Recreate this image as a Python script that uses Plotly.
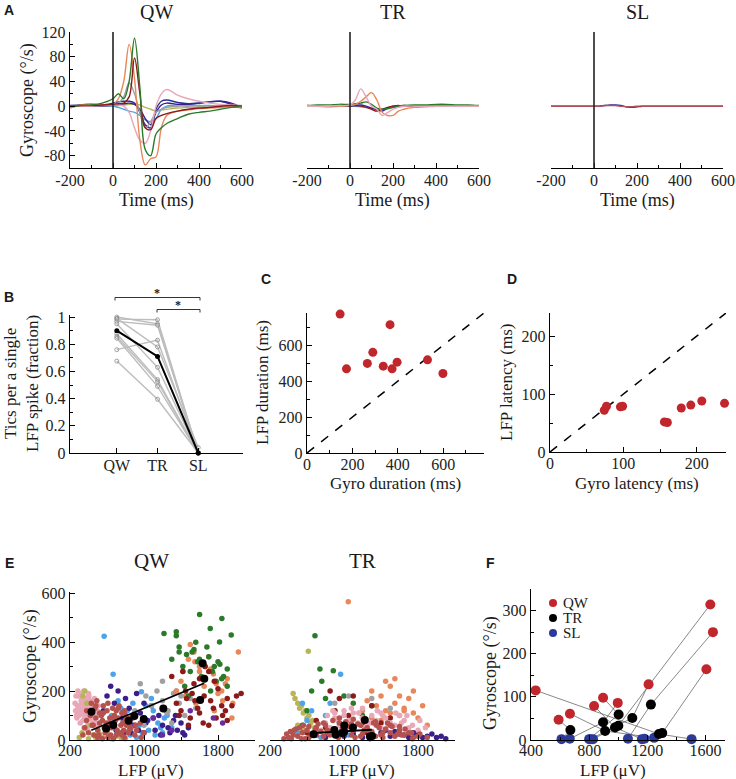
import plotly.graph_objects as go

W, H = 736, 779
SERIF = "Liberation Serif"
SANS = "Liberation Sans"

# ---------------- Panel A: gyroscope traces (deg/s) ----------------
time_ms = [-200, -150, -100, -50, 0, 25, 50, 75, 100, 125, 150, 175, 200, 225, 250, 300, 350, 400, 450, 500, 550, 600]

qw_orange = [-3, 2, 4, 2, 3, 12, 40, 100, 45, -55, -95, -85, -82, -35, -15, -8, -6, -4, -3, -2, -1, -3]
qw_green = [0, 1, 2, 5, 12, 20, 12, 40, 110, 30, -70, -80, -45, -35, -28, -20, -13, -10, -8, -5, -2, 0]
qw_darkred = [0, 1, 1, 2, 3, 4, 5, 15, 78, 20, -35, -38, -20, -15, -12, -8, -5, -3, -2, 0, 1, 0]
qw_gray = [0, 0, 1, 1, 2, 5, 15, 38, 20, -10, -35, -25, -10, -5, -2, 0, 0, 1, 0, 0, 0, 0]
qw_pink = [0, 0, 0, 1, 2, 2, 0, -10, -35, -55, -60, -40, 0, 20, 27, 18, 12, 8, 5, 3, 2, 1]
qw_navy = [1, 2, 1, 2, 5, 7, 8, 8, 5, -10, -30, -35, -5, 8, 10, 6, 4, 5, 7, 8, 3, -3]
qw_lightblue = [0, 0, 1, 0, 0, -2, -5, -8, -10, -15, -22, -25, -20, -5, 0, 2, 2, 1, 1, 0, 0, -1]
qw_olive = [0, 0, 0, 0, 0, 1, 2, 3, 3, 2, -2, -5, -8, -6, -5, -3, -2, -1, -1, 0, 0, 0]
qw_indigo = [0, 0, 0, 0, 2, 3, 4, 5, 3, -5, -20, -30, -10, 2, 5, 3, 3, 5, 7, 8, 5, -2]

tr_pink = [0, 0, 0, 1, 2, 10, 28, 15, 0, -5, -15, -10, -5, -2, 0, 0, 0, 0, 0, 0, 0, 0]
tr_orange = [1, 0, 1, 0, 1, 3, 8, 15, 22, 10, -10, -15, -15, -8, -5, -2, -1, 0, 0, 0, 0, 0]
tr_green = [1, 2, 2, 3, 3, 4, 5, 7, 3, -3, -5, -4, -2, 0, 1, 2, 2, 3, 3, 2, 2, 1]
tr_darkred = [0, 0, 0, 0, 1, 1, 0, -2, -5, -8, -5, -2, 0, 1, 0, 0, 0, 0, 0, 0, 0, 0]
tr_navy = [0, 0, 0, 0, 0, 1, 2, 0, -3, -6, -8, -3, 0, 0, 1, 0, 0, 0, 0, 0, 0, 0]
tr_lightblue = [0, 0, -1, 0, 0, 0, -1, -2, -3, -5, -6, -4, -2, -1, 0, 0, 0, 0, 0, 0, 0, 0]

sl_navy = [0, 0, 0, 0, 0, 0, 1, 2, 2, 1, -1, -2, -1, 0, 0, 0, 0, 0, 0, 0, 0, 0]
sl_darkred = [0, 0, 0, 0, 0, 0, 1, 1, 1, 0, -1, -1, 0, 0, 0, 0, 0, 0, 0, 0, 0, 0]

# ---------------- Panel B: tics per LFP spike ----------------
b_states = ["QW", "TR", "SL"]
b_qw = [1.00, 0.985, 0.968, 0.95, 0.877, 0.857, 0.844, 0.76, 0.676, 0.99]
b_tr = [0.95, 0.98, 0.94, 0.63, 0.54, 0.525, 0.49, 0.83, 0.395, 0.78]
b_sl = [0, 0, 0, 0, 0, 0, 0, 0, 0, 0.04]
b_mean = [0.9, 0.71, 0.0]

# ---------------- Panel C: durations (ms) ----------------
c_gyro_dur = [146, 174, 266, 290, 336, 366, 375, 397, 531, 599]
c_lfp_dur = [774, 469, 499, 561, 484, 715, 469, 506, 519, 443]

# ---------------- Panel D: latencies (ms) ----------------
d_gyro_lat = [74, 77, 96, 99, 156, 160, 179, 192, 207, 238]
d_lfp_lat = [72, 79, 78, 79, 52, 51, 76, 81, 88, 84]

# ---------------- Panel E: LFP (uV) vs gyroscope (deg/s), single events ----------------
eqw_pink_x = [260, 280, 300, 320, 340, 360, 380, 400, 420, 440, 460, 480, 500, 290, 310, 330, 350, 370, 390, 410,
              430, 450, 470, 270, 300, 340, 380, 420, 460, 500, 330, 370, 410, 450, 350, 390, 430, 310, 360, 400,
              255, 275, 295, 315, 335, 355, 375, 395, 415, 435, 455, 475, 495, 515, 265, 325, 385, 445, 505, 285,
              345, 405, 465]
eqw_pink_y = [120, 140, 100, 160, 130, 90, 150, 170, 110, 80, 130, 100, 60, 180, 70, 120, 200, 140, 60, 90,
              150, 120, 70, 100, 110, 80, 120, 130, 90, 110, 150, 170, 140, 100, 50, 40, 60, 140, 100, 190,
              150, 90, 130, 110, 170, 100, 130, 110, 160, 140, 90, 150, 120, 100, 180, 190, 90, 110, 140, 200,
              140, 180, 170]
eqw_olive_x = [300, 330, 360, 400, 450, 500, 550, 600, 650, 700, 750, 800, 420, 480, 520, 340, 380]
eqw_olive_y = [10, 30, 200, 5, 20, 40, 10, 30, 5, 15, 10, 5, 60, 8, 25, 180, 150]
eqw_lightblue_x = [569, 666, 972, 600, 650, 700, 750, 800, 850, 900, 950, 1000, 1050, 1100, 1150, 1200, 1250, 1300,
                   720, 780, 880, 980, 1080, 1180, 680, 820, 920, 1020, 1120, 1220]
eqw_lightblue_y = [424, 269, 197, 60, 100, 40, 130, 80, 20, 110, 60, 90, 40, 120, 70, 30, 100, 50,
                   160, 10, 150, 30, 170, 50, 80, 120, 10, 140, 20, 90]
eqw_indigo_x = [560, 600, 640, 680, 720, 760, 800, 840, 880, 920, 960, 1000, 1040, 1080, 1120, 1160, 1200, 1240,
                1280, 1320, 1360, 1400, 1440, 1480, 700, 780, 860, 940, 1020, 1100, 1180, 1260, 1340, 1420]
eqw_indigo_y = [120, 180, 220, 150, 200, 90, 170, 130, 60, 190, 110, 150, 80, 140, 40, 100, 60, 120,
                30, 80, 40, 70, 20, 50, 40, 30, 30, 40, 70, 90, 20, 50, 100, 30]
eqw_gray_x = [900, 960, 1020, 1080, 1140, 1200, 1260, 1320, 1380, 1440, 1500, 1560, 1100, 1200, 1300, 1400, 1000, 1250, 1350]
eqw_gray_y = [120, 230, 180, 140, 200, 160, 120, 190, 150, 100, 170, 130, 90, 240, 70, 180, 60, 110, 200]
eqw_salmon_x = [1350, 1420, 1480, 1540, 1600, 1660, 1720, 1780, 1840, 1900, 1960, 2020, 1450, 1550, 1650, 1750,
                1850, 1950, 1500, 1600, 1700, 1800, 1400, 1560, 1760, 1880]
eqw_salmon_y = [200, 280, 330, 360, 300, 250, 290, 230, 200, 250, 150, 360, 180, 320, 220, 270,
                160, 90, 390, 280, 340, 190, 240, 150, 120, 230]
eqw_green_x = [1216, 1349, 1349, 1601, 1842, 1716, 1943, 1817, 1300, 1380, 1420, 1460, 1500, 1540, 1580, 1620, 1660,
               1700, 1740, 1780, 1820, 1860, 1900, 1440, 1520, 1600, 1680, 1760, 1840, 1480, 1560, 1640, 1720, 1800,
               1380, 1900]
eqw_green_y = [435, 442, 426, 513, 497, 456, 429, 401, 330, 360, 300, 350, 280, 370, 320, 260, 300,
               340, 280, 240, 310, 260, 220, 220, 360, 330, 380, 300, 250, 180, 400, 250, 200, 320,
               380, 290]
eqw_darkred_x = [1300, 1350, 1400, 1450, 1500, 1550, 1600, 1650, 1700, 1750, 1800, 1850, 1900, 1950, 2000, 2050, 1420,
                 1480, 1540, 1600, 1660, 1720, 1780, 1840, 1900, 1380, 1520, 1640, 1760, 1880, 1460, 1580, 1700]
eqw_darkred_y = [260, 150, 120, 200, 90, 160, 250, 180, 60, 130, 210, 100, 170, 140, 180, 190, 280,
                 60, 230, 110, 300, 160, 90, 140, 80, 100, 190, 70, 240, 120, 170, 130, 280]
eqw_purple_x = [900, 1100, 1300, 1500, 1750, 1850, 1000, 1200]
eqw_purple_y = [60, 90, 40, 120, 90, 70, 30, 20]
eqw_brown_x = [450, 480, 500, 520, 550, 580, 600, 620, 650, 680, 700, 720, 750, 780, 800, 830, 860, 900, 470,
               510, 560, 610, 660, 710, 760, 810, 540, 590, 640, 690, 740, 790, 500, 570, 630, 700, 770, 840,
               340, 360, 380, 400, 420, 440, 460, 480, 520, 560, 600, 640, 680, 720, 760, 800, 840, 880, 920,
               960, 1000, 380, 430, 490, 550, 610, 670, 730, 790, 850, 910, 970]
eqw_brown_y = [60, 90, 40, 110, 80, 30, 120, 70, 50, 100, 20, 90, 60, 40, 80, 30, 50, 20, 130,
               20, 140, 10, 130, 40, 110, 60, 100, 70, 20, 80, 30, 10, 10, 50, 90, 120, 70, 40,
               20, 50, 80, 30, 100, 60, 20, 140, 70, 110, 40, 90, 60, 130, 20, 100, 60, 90, 40,
               70, 30, 120, 150, 160, 5, 150, 5, 140, 120, 90, 60, 10]

etr_brown_x = [350, 400, 450, 500, 550, 600, 650, 700, 750, 800, 850, 900, 950, 1000, 1050, 1100, 1150, 1200, 1250,
               1300, 1350, 1400, 1450, 1500, 1550, 1600, 1650, 1700, 1750, 1800, 420, 520, 620, 720, 820, 920, 1020,
               1120, 1220, 1320, 1420, 1520, 1620, 480, 580, 680, 780, 880, 980, 1080, 1180, 1280, 1380,
               380, 460, 540, 620, 700, 780, 860, 940, 1020, 1100, 1180, 1260, 1340, 1420, 1500, 1580, 1660,
               1740, 1820, 1900, 430, 560, 690, 820, 950, 1080, 1210, 1340, 1470, 1600, 1730]
etr_brown_y = [5, 10, 20, 15, 30, 40, 25, 50, 35, 60, 20, 45, 70, 30, 55, 40, 65, 25, 50,
               35, 60, 20, 45, 30, 15, 40, 20, 30, 10, 15, 35, 50, 10, 65, 40, 20, 75,
               10, 40, 70, 30, 55, 20, 45, 5, 30, 15, 80, 45, 20, 60, 5, 50,
               25, 40, 5, 55, 20, 70, 35, 10, 50, 85, 15, 40, 75, 10, 60, 25, 45,
               5, 25, 10, 5, 60, 40, 30, 90, 65, 80, 15, 70, 55, 30]
etr_pink_x = [750, 800, 850, 900, 950, 1000, 1050, 1100, 1150, 1200, 1250, 1300, 1350, 1400, 1450, 1500, 1550, 1600,
              1650, 1700, 1750, 1800, 900, 1000, 1100, 1200, 1300, 1400, 1500, 1600,
              820, 880, 940, 1020, 1080, 1160, 1220, 1280, 1360, 1420, 1480, 1560, 1620, 1680, 1740, 1820, 1880]
etr_pink_y = [40, 70, 50, 90, 60, 100, 80, 110, 70, 90, 60, 100, 80, 50, 90, 70, 60, 40,
              80, 50, 30, 40, 110, 120, 40, 130, 30, 110, 30, 100,
              100, 120, 80, 60, 130, 110, 50, 70, 120, 100, 60, 110, 70, 100, 60, 80, 50]
etr_salmon_x = [1200, 1250, 1300, 1350, 1400, 1450, 1500, 1550, 1600, 1650, 1700, 1750, 1800, 1850, 1900, 1300, 1450,
                1600, 1750, 1550, 1650, 1400, 1046, 1500]
etr_salmon_y = [120, 160, 200, 140, 180, 120, 220, 150, 100, 130, 170, 110, 90, 140, 60, 90, 240,
                180, 200, 250, 120, 80, 565, 110]
etr_olive_x = [450, 470, 500, 520, 540, 560, 580, 600, 620, 640, 660, 680, 614, 500, 560]
etr_olive_y = [190, 170, 150, 130, 140, 110, 120, 90, 100, 70, 80, 50, 363, 60, 40]
etr_green_x = [686, 740, 884, 1000, 1100, 550, 650, 800, 900, 1200, 1300, 760, 600]
etr_green_y = [426, 290, 283, 180, 150, 60, 200, 170, 120, 100, 140, 240, 120]
etr_lightblue_x = [963, 500, 600, 700, 800, 900, 1000, 1100, 1200, 1300, 650, 750, 850, 950, 1050, 550]
etr_lightblue_y = [269, 30, 80, 50, 100, 20, 60, 40, 90, 30, 120, 10, 150, 70, 20, 150]
etr_darkred_x = [600, 700, 800, 900, 1000, 1100, 1200, 1300, 1400, 1500, 850, 1050, 1250, 950]
etr_darkred_y = [30, 80, 50, 120, 40, 180, 60, 140, 70, 90, 200, 100, 30, 170]
etr_indigo_x = [700, 800, 900, 1000, 1100, 1200, 1300, 1400, 1500, 1600, 1700, 1800, 1900, 2000, 2100, 1450, 1550,
                1650, 1750, 1850, 1950, 2050]
etr_indigo_y = [20, 10, 30, 15, 25, 10, 20, 30, 15, 25, 10, 20, 15, 10, 5, 40, 35, 20, 30, 10, 25, 15]
etr_gray_x = [900, 1300, 1500, 1050]
etr_gray_y = [150, 170, 130, 180]

# per-subject means (shared by E and F), ordered by subject
f_qw_x = [432, 1634, 1652, 1607, 1209, 834, 668, 590, 896, 997]
f_qw_y = [115, 314, 250, 164, 129, 79, 61, 47, 98, 86]
f_tr_x = [1280, 1001, 1225, 1303, 1097, 978, 910, 671, 1003, 896]
f_tr_y = [14, 33, 82, 16, 51, 29, 21, 23, 59, 41]
f_sl_x = [1505, 827, 1067, 1181, 809, 1163, 1247, 610, 800, 667]
f_sl_y = [2, 2, 3, 3, 2, 2, 5, 2, 2, 3]

e_qw_fit_x = [430, 1650]
e_qw_fit_y = [40, 232]
e_tr_fit_x = [640, 1300]
e_tr_fit_y = [28, 42]

# ---------------- colours ----------------
ORANGE = "#e8875a"
GREEN = "#2a7a2a"
DARKRED = "#8b1a1a"
GRAY = "#a0a0a0"
PINK = "#e8a8b8"
NAVY = "#2a2a9a"
LIGHTBLUE = "#4da3e8"
OLIVE = "#b8b45a"
INDIGO = "#3a1f8a"
BROWN = "#b5524e"
PURPLE = "#6a2aa0"
RED = "#c0262c"
BLUE = "#2b3a9a"


def px(x):
    return x / W


def py(y):
    return 1 - y / H


def dom_x(a, b):
    return [px(a), px(b)]


def dom_y(top, bottom):
    return [py(bottom), py(top)]


fig = go.Figure()


def xa(i):
    return "x" if i == 1 else f"x{i}"


def ya(i):
    return "y" if i == 1 else f"y{i}"


def add(i, **kw):
    fig.add_trace(go.Scatter(xaxis=xa(i), yaxis=ya(i), showlegend=False, hoverinfo="skip", **kw))


# Panel A traces
panel_a = [
    (1, [qw_olive, qw_lightblue, qw_indigo, qw_navy, qw_gray, qw_pink, qw_orange, qw_darkred, qw_green],
     [OLIVE, LIGHTBLUE, INDIGO, NAVY, GRAY, PINK, ORANGE, DARKRED, GREEN]),
    (2, [tr_lightblue, tr_navy, tr_darkred, tr_green, tr_orange, tr_pink],
     [LIGHTBLUE, NAVY, DARKRED, GREEN, ORANGE, PINK]),
    (3, [sl_navy, sl_darkred], [NAVY, "#b0505a"]),
]
for i, series, cols in panel_a:
    for s, c in zip(series, cols):
        add(i, x=time_ms, y=s, mode="lines", line=dict(color=c, width=1.4, shape="spline", smoothing=1.0))

# Panel B
b_pos = [1, 2, 3]
for q, t, s in zip(b_qw, b_tr, b_sl):
    add(4, x=b_pos, y=[q, t, s], mode="lines+markers", line=dict(color="#bdbdbd", width=1.4),
        marker=dict(symbol="circle-open", size=4, color="#8a8a8a", line=dict(width=0.8)), cliponaxis=False)
add(4, x=b_pos, y=b_mean, mode="lines+markers", line=dict(color="black", width=2),
    marker=dict(size=5, color="black"), cliponaxis=False)

# Panel C
add(5, x=[0, 780], y=[0, 780], mode="lines", line=dict(color="black", width=1.5, dash="dash"))
add(5, x=c_gyro_dur, y=c_lfp_dur, mode="markers", marker=dict(size=9, color=RED), cliponaxis=False)

# Panel D
add(6, x=[0, 240], y=[0, 240], mode="lines", line=dict(color="black", width=1.5, dash="dash"))
add(6, x=d_gyro_lat, y=d_lfp_lat, mode="markers", marker=dict(size=9, color=RED), cliponaxis=False)

# Panel E
e_qw = [(eqw_pink_x, eqw_pink_y, PINK), (eqw_olive_x, eqw_olive_y, OLIVE), (eqw_lightblue_x, eqw_lightblue_y, LIGHTBLUE),
        (eqw_indigo_x, eqw_indigo_y, INDIGO), (eqw_gray_x, eqw_gray_y, GRAY), (eqw_salmon_x, eqw_salmon_y, ORANGE),
        (eqw_green_x, eqw_green_y, GREEN), (eqw_darkred_x, eqw_darkred_y, DARKRED), (eqw_purple_x, eqw_purple_y, PURPLE),
        (eqw_brown_x, eqw_brown_y, BROWN)]
e_tr = [(etr_salmon_x, etr_salmon_y, ORANGE), (etr_olive_x, etr_olive_y, OLIVE), (etr_green_x, etr_green_y, GREEN),
        (etr_lightblue_x, etr_lightblue_y, LIGHTBLUE), (etr_gray_x, etr_gray_y, GRAY), (etr_darkred_x, etr_darkred_y, DARKRED),
        (etr_pink_x, etr_pink_y, PINK), (etr_indigo_x, etr_indigo_y, INDIGO), (etr_brown_x, etr_brown_y, BROWN)]
for i, groups in [(7, e_qw), (8, e_tr)]:
    for gx, gy, c in groups:
        add(i, x=gx, y=gy, mode="markers", marker=dict(size=5.5, color=c), cliponaxis=False)
add(7, x=e_qw_fit_x, y=e_qw_fit_y, mode="lines", line=dict(color="black", width=1.8))
add(7, x=f_qw_x, y=f_qw_y, mode="markers", marker=dict(size=8, color="black"))
add(8, x=e_tr_fit_x, y=e_tr_fit_y, mode="lines", line=dict(color="black", width=1.8))
add(8, x=f_tr_x, y=f_tr_y, mode="markers", marker=dict(size=8, color="black"))

# Panel F
for k in range(len(f_qw_x)):
    add(9, x=[f_qw_x[k], f_tr_x[k], f_sl_x[k]], y=[f_qw_y[k], f_tr_y[k], f_sl_y[k]], mode="lines",
        line=dict(color="#555555", width=0.7))
add(9, x=f_sl_x, y=f_sl_y, mode="markers", marker=dict(size=10, color=BLUE), cliponaxis=False)
add(9, x=f_tr_x, y=f_tr_y, mode="markers", marker=dict(size=10, color="black"), cliponaxis=False)
add(9, x=f_qw_x, y=f_qw_y, mode="markers", marker=dict(size=10, color=RED), cliponaxis=False)

# ---------------- axes ----------------
TICKFONT = dict(family=SERIF, size=16, color="#222")


def axis(dom, rng, anchor, tickvals=None, ticktext=None, minor=None, visible=True, standoff=0):
    d = dict(domain=dom, range=rng, anchor=anchor, showline=True, linecolor="black", linewidth=1.4,
             ticks="inside", ticklen=5, tickwidth=1.2, tickcolor="black", showgrid=False, zeroline=False,
             tickfont=TICKFONT, visible=visible, fixedrange=True, automargin=False, ticklabelstandoff=standoff)
    if tickvals is not None:
        d["tickvals"] = tickvals
        d["ticktext"] = ticktext if ticktext is not None else [str(v) for v in tickvals]
    if minor is not None:
        d["minor"] = dict(ticks="inside", dtick=minor[0], tick0=minor[1], ticklen=3, tickcolor="black", tickwidth=1)
    return d


a_ty = dom_y(32, 168)
a_xt = [-200, 0, 200, 400, 600]
a_xl = ["-200", "0", "200", "400", "600"]
layout_axes = {}
for i, (l, r) in zip([1, 2, 3], [(70, 242), (307, 479), (551, 723)]):
    layout_axes[("xaxis" if i == 1 else f"xaxis{i}")] = axis(dom_x(l, r), [-200, 600], ya(i), a_xt, a_xl, (100, -200),
                                                             standoff=-2)
    layout_axes[("yaxis" if i == 1 else f"yaxis{i}")] = axis(
        a_ty, [-100, 120], xa(i), [-80, -40, 0, 40, 80, 120], ["-80", "-40", "0", "40", "80", "120"], (20, -100),
        visible=(i == 1))

layout_axes["xaxis4"] = axis(dom_x(70, 243), [-0.15, 4.1], "y4", b_pos, b_states, standoff=-2)
layout_axes["yaxis4"] = axis(dom_y(315, 453), [0, 1.015], "x4", [0, 0.2, 0.4, 0.6, 0.8, 1],
                             ["0", "0.2", "0.4", "0.6", "0.8", "1"], (0.1, 0))
layout_axes["xaxis5"] = axis(dom_x(307, 484), [0, 780], "y5", [0, 200, 400, 600], None, (100, 0), standoff=-3)
layout_axes["yaxis5"] = axis(dom_y(313, 453), [0, 780], "x5", [0, 200, 400, 600], None, (100, 0))
layout_axes["xaxis6"] = axis(dom_x(550, 726), [0, 240], "y6", [0, 100, 200], None, (50, 0), standoff=-3)
layout_axes["yaxis6"] = axis(dom_y(313, 452), [0, 240], "x6", [0, 100, 200], None, (50, 0))
e_dy = dom_y(592, 740)
layout_axes["xaxis7"] = axis(dom_x(70, 255), [200, 2200], "y7", [200, 1000, 1800], None, (400, 200), standoff=-4)
layout_axes["yaxis7"] = axis(e_dy, [0, 605], "x7", [0, 200, 400, 600], None, (100, 0))
layout_axes["xaxis8"] = axis(dom_x(270, 455), [200, 2200], "y8", [200, 1000, 1800], None, (400, 200), standoff=-4)
layout_axes["yaxis8"] = axis(e_dy, [0, 605], "x8", visible=False)
layout_axes["xaxis9"] = axis(dom_x(531, 725), [400, 1735], "y9", [400, 800, 1200, 1600], None, (200, 400), standoff=-4)
layout_axes["yaxis9"] = axis(dom_y(589, 740), [0, 350], "x9", [0, 100, 200, 300], None, (50, 0))

# ---------------- text ----------------
ann = []


def txt(x, y, s, size=17, family=SERIF, angle=0, xanchor="center", bold=False):
    ann.append(dict(x=px(x), y=py(y), xref="paper", yref="paper", text=f"<b>{s}</b>" if bold else s,
                    showarrow=False, textangle=angle, xanchor=xanchor, yanchor="middle",
                    font=dict(family=family, size=size, color="#1a1a1a")))


for s, (x, y) in zip("ABCDEF", [(9, 10), (9, 297), (266, 279), (512, 279), (9, 563), (490, 563)]):
    txt(x, y, s, size=14, family=SANS, bold=True)

for s, x in [("QW", 156), ("TR", 393), ("SL", 637)]:
    txt(x, 12, s, size=20)
    txt(x, 200, "Time (ms)", size=18)
txt(28, 100, "Gyroscope (°/s)", size=18, angle=-90)

txt(21, 384, "Tics per a single<br>LFP spike (fraction)", size=17, angle=-90)
txt(157, 293, "*", size=12, bold=True)
txt(178, 305, "*", size=12, bold=True)

txt(262, 383, "LFP duration (ms)", size=17, angle=-90)
txt(395, 483, "Gyro duration (ms)", size=17)
txt(506, 383, "LFP latency (ms)", size=17, angle=-90)
txt(637, 483, "Gyro latency (ms)", size=17)

txt(151, 561, "QW", size=21)
txt(362, 561, "TR", size=21)
txt(30, 666, "Gyroscope (°/s)", size=18, angle=-90)
txt(151, 770, "LFP (μV)", size=17)
txt(362, 770, "LFP (μV)", size=17)

txt(490, 673, "Gyroscope (°/s)", size=18, angle=-90)
txt(613, 770, "LFP (μV)", size=17)
for s, y in [("QW", 603), ("TR", 618), ("SL", 633)]:
    txt(561, y, s, size=15, xanchor="left")

shapes = []
for i in [1, 2, 3]:
    shapes.append(dict(type="line", xref=xa(i), yref=f"{ya(i)} domain", x0=0, x1=0, y0=0, y1=1,
                       line=dict(color="#222", width=1.6)))
# significance brackets in panel B
for x0, x1, y in [(115, 200, 297.5), (157, 200, 309.5)]:
    shapes.append(dict(type="path", xref="paper", yref="paper",
                       path=f"M {px(x0)},{py(y + 3)} L {px(x0)},{py(y)} L {px(x1)},{py(y)} L {px(x1)},{py(y + 3)}",
                       line=dict(color="#333", width=1)))
# legend dots in panel F
for c, y in [(RED, 603), ("black", 618), (BLUE, 633)]:
    shapes.append(dict(type="circle", xref="paper", yref="paper", x0=px(549), x1=px(557), y0=py(y + 4), y1=py(y - 4),
                       fillcolor=c, line=dict(width=0)))

fig.update_layout(
    width=W, height=H, margin=dict(l=0, r=0, t=0, b=0, pad=0), autosize=False,
    paper_bgcolor="white", plot_bgcolor="white", showlegend=False,
    annotations=ann, shapes=shapes, **layout_axes,
)

# drop the browser's default body margin so the figure sits at the window's corner
fig.write_html("out.html", config={"displayModeBar": False}, post_script="document.body.style.margin='0';")
